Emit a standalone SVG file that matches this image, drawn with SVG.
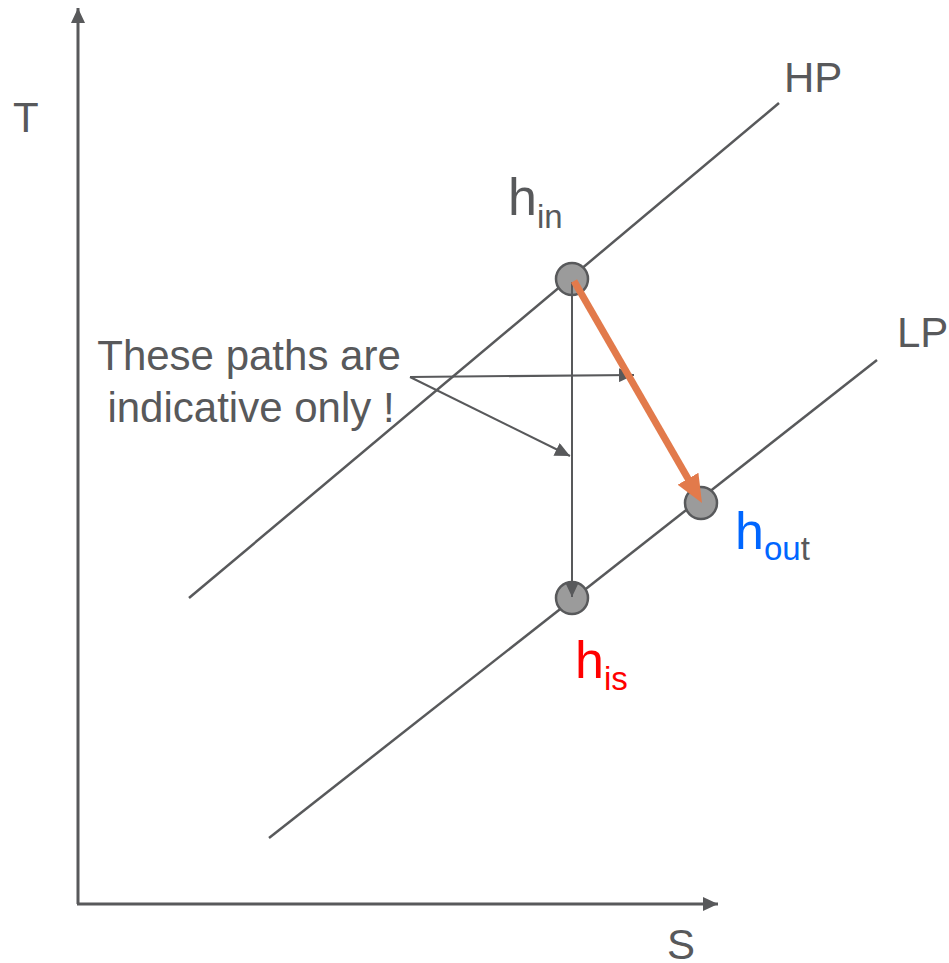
<svg xmlns="http://www.w3.org/2000/svg" width="949" height="963" viewBox="0 0 949 963">
<style>
.t{font-family:"Liberation Sans",Arial,sans-serif;fill:#58595B;font-size:42px}
.h{font-family:"Liberation Sans",Arial,sans-serif;font-size:52px}
.s{font-size:33px}
.ln{stroke:#58595B;fill:none}
.pt{fill:#9B9B9B;stroke:#58595B;stroke-width:2.5}
</style>
<defs>
<marker id="ahs" markerWidth="15" markerHeight="14" refX="15" refY="7" orient="auto" markerUnits="userSpaceOnUse" viewBox="0 0 15 14">
<path d="M0,0 L15,7 L0,14 z" fill="#58595B"/>
</marker>
<marker id="aho" markerWidth="28" markerHeight="24" refX="1" refY="12" orient="auto" markerUnits="userSpaceOnUse" viewBox="0 0 28 24">
<path d="M0,0 L28,12 L0,24 z" fill="#E27A4B"/>
</marker>
</defs>
<g id="axes">
<line class="ln" x1="78" y1="904" x2="78" y2="8" stroke-width="3" marker-end="url(#ahs)"/>
<line class="ln" x1="77" y1="904" x2="718" y2="904" stroke-width="3" marker-end="url(#ahs)"/>
<text class="t" x="13" y="132">T</text>
<text class="t" x="667" y="959">S</text>
</g>
<g id="isobars">
<line class="ln" x1="189" y1="598" x2="779" y2="103" stroke-width="2.5"/>
<line class="ln" x1="269" y1="838" x2="877" y2="360" stroke-width="2.5"/>
<text class="t" x="784" y="92">HP</text>
<text class="t" x="897" y="347">LP</text>
</g>
<g id="h_in">
<circle class="pt" cx="572" cy="279" r="16"/>
<text class="h" x="508" y="215" fill="#58595B">h<tspan class="s" dy="13">in</tspan></text>
</g>
<g id="h_is">
<circle class="pt" cx="572" cy="598" r="16"/>
<text class="h" x="575" y="678" fill="#FF0000">h<tspan class="s" dy="12">is</tspan></text>
</g>
<g id="h_out">
<circle class="pt" cx="701" cy="503" r="16"/>
<text class="h" x="735" y="549" fill="#0066FF">h<tspan class="s" dy="11">ou</tspan><tspan class="s" fill="#58595B">t</tspan></text>
</g>
<g id="note">
<text class="t" text-anchor="middle"><tspan x="249" y="370">These paths are</tspan><tspan x="251" y="422">indicative only !</tspan></text>
</g>
<g id="connectors">
<line class="ln" x1="572" y1="282" x2="572" y2="597" stroke-width="2" marker-end="url(#ahs)"/>
<line class="ln" x1="410" y1="377" x2="634" y2="375" stroke-width="2" marker-end="url(#ahs)"/>
<line class="ln" x1="410" y1="377" x2="570" y2="456" stroke-width="2" marker-end="url(#ahs)"/>
<line x1="574" y1="281" x2="688.5" y2="479.6" stroke="#E27A4B" stroke-width="7" marker-end="url(#aho)"/>
</g>
</svg>
